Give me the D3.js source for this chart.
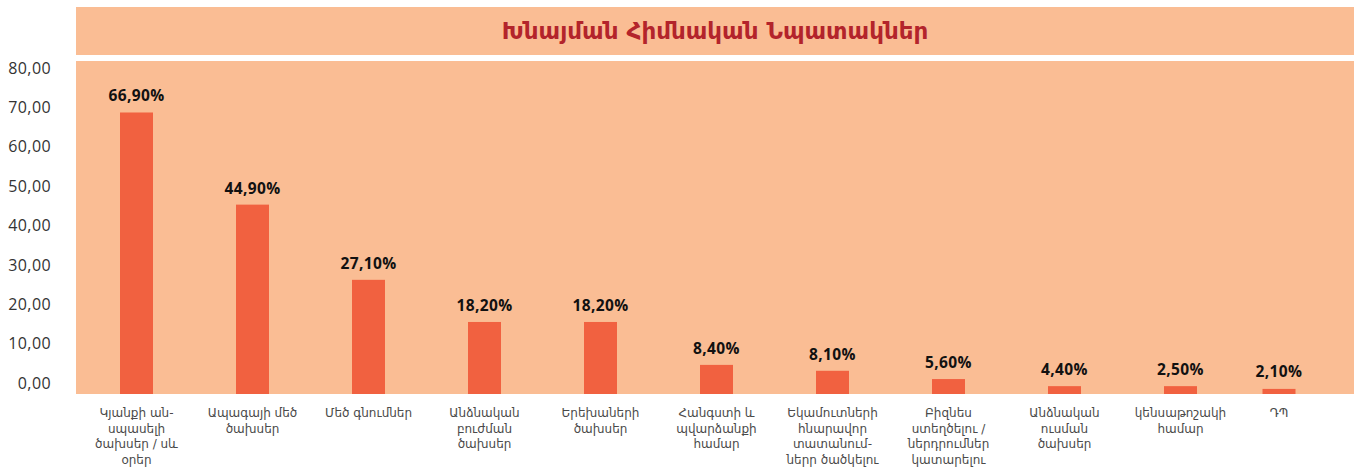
<!DOCTYPE html>
<html>
<head>
<meta charset="utf-8">
<script src="https://cdn.jsdelivr.net/npm/d3@7"></script>
<style>
  body { margin: 0; background: #fff; }
  svg { display: block; }
</style>
</head>
<body>
<svg id="chart"></svg>
<script>
// category names, already broken into lines as in the picture
var categories = [
  ["Կյանքի ան-", "սպասելի", "ծախսեր / սև", "օրեր"],
  ["Ապագայի մեծ", "ծախսեր"],
  ["Մեծ գնումներ"],
  ["Անձնական", "բուժման", "ծախսեր"],
  ["Երեխաների", "ծախսեր"],
  ["Հանգստի և", "պվարձանքի", "համար"],
  ["Եկամուտների", "հնարավոր", "տատանում-", "ներր ծածկելու"],
  ["Բիզնես", "ստեղծելու /", "ներդրումներ", "կատարելու"],
  ["Անձնական", "ուսման", "ծախսեր"],
  ["կենսաթոշակի", "համար"],
  ["ԴՊ"]
]
// bar heights as read against the y axis
var barValues = [68.7, 45.3, 26.2, 15.5, 15.5, 4.6, 3.1, 1.0, -0.8, -0.8, -1.5]
// printed labels
var labelValues = [66.9, 44.9, 27.1, 18.2, 18.2, 8.4, 8.1, 5.6, 4.4, 2.5, 2.1]
var yTicks = [0, 10, 20, 30, 40, 50, 60, 70, 80]
var title = "Խնայման Հիմնական Նպատակներ"

var W = 1354, H = 467
var plot = {left: 76, right: 1354, top: 61, bottom: 394}
var maxCenter = 1279   // last column is pulled in from the right edge

var loc = d3.formatLocale({decimal: ",", thousands: " ", grouping: [3], currency: ["", ""]})
var fmtTick = loc.format(".2f")
var fmtPct = function(v){ return loc.format(".2f")(v) + "%" }

var svg = d3.select("#chart").attr("width", W).attr("height", H)

// title band
svg.append("rect")
    .attr("x", plot.left).attr("y", 7)
    .attr("width", plot.right - plot.left).attr("height", 48)
    .attr("fill", "#FABD94")
svg.append("text")
    .attr("x", (plot.left + plot.right) / 2).attr("y", 39)
    .attr("text-anchor", "middle")
    .style("font-family", "'DejaVu Sans', 'Noto Sans', sans-serif")
    .style("font-size", "23px").style("font-weight", "bold")
    .attr("fill", "#B3242B")
    .text(title)

// plot background
svg.append("rect")
    .attr("x", plot.left).attr("y", plot.top)
    .attr("width", plot.right - plot.left).attr("height", plot.bottom - plot.top)
    .attr("fill", "#FABD94")

var x = d3.scaleBand()
    .domain(d3.range(categories.length))
    .range([78.5, 1354.5])
    .paddingInner(0.7155).paddingOuter(0.7155 / 2)

function cx(i){ return Math.min(x(i) + x.bandwidth() / 2, maxCenter) }

var y = d3.scaleLinear().domain([0, 80]).range([383, 68])

// y axis (labels only)
var yAxis = d3.axisLeft(y).tickValues(yTicks).tickFormat(fmtTick).tickSize(0).tickPadding(0)
var ya = svg.append("g").attr("transform", "translate(51,0)").call(yAxis)
ya.select(".domain").remove()
ya.selectAll("text")
    .style("font-family", "'Open Sans', 'Noto Sans', sans-serif")
    .style("font-size", "16px").style("letter-spacing", "0.4px")
    .attr("fill", "#333")

// bars
svg.append("g").selectAll("rect").data(barValues).enter()
    .append("rect")
    .attr("x", (d, i) => cx(i) - x.bandwidth() / 2)
    .attr("width", x.bandwidth())
    .attr("y", d => y(d))
    .attr("height", d => plot.bottom - y(d))
    .attr("fill", "#F16140")

// value labels
svg.append("g").selectAll("text").data(labelValues).enter()
    .append("text")
    .attr("x", (d, i) => cx(i))
    .attr("y", (d, i) => Math.min(y(barValues[i]) - 11, 377))
    .attr("text-anchor", "middle")
    .style("font-family", "'Open Sans', 'Noto Sans', sans-serif")
    .style("font-size", "15.5px").style("font-weight", "bold")
    .style("letter-spacing", "0.4px")
    .attr("fill", "#111")
    .text(d => fmtPct(d))

// category labels
var cat = svg.append("g").selectAll("text").data(categories).enter()
    .append("text")
    .attr("text-anchor", "middle")
    .style("font-family", "'DejaVu Sans', 'Noto Sans', sans-serif")
    .style("font-size", "12px")
    .attr("fill", "#4a4a4a")
cat.selectAll("tspan").data((d, i) => d.map(t => ({t: t, i: i}))).enter()
    .append("tspan")
    .attr("x", d => cx(d.i))
    .attr("y", (d, j) => 417 + j * 15.6)
    .text(d => d.t)
</script>
</body>
</html>
